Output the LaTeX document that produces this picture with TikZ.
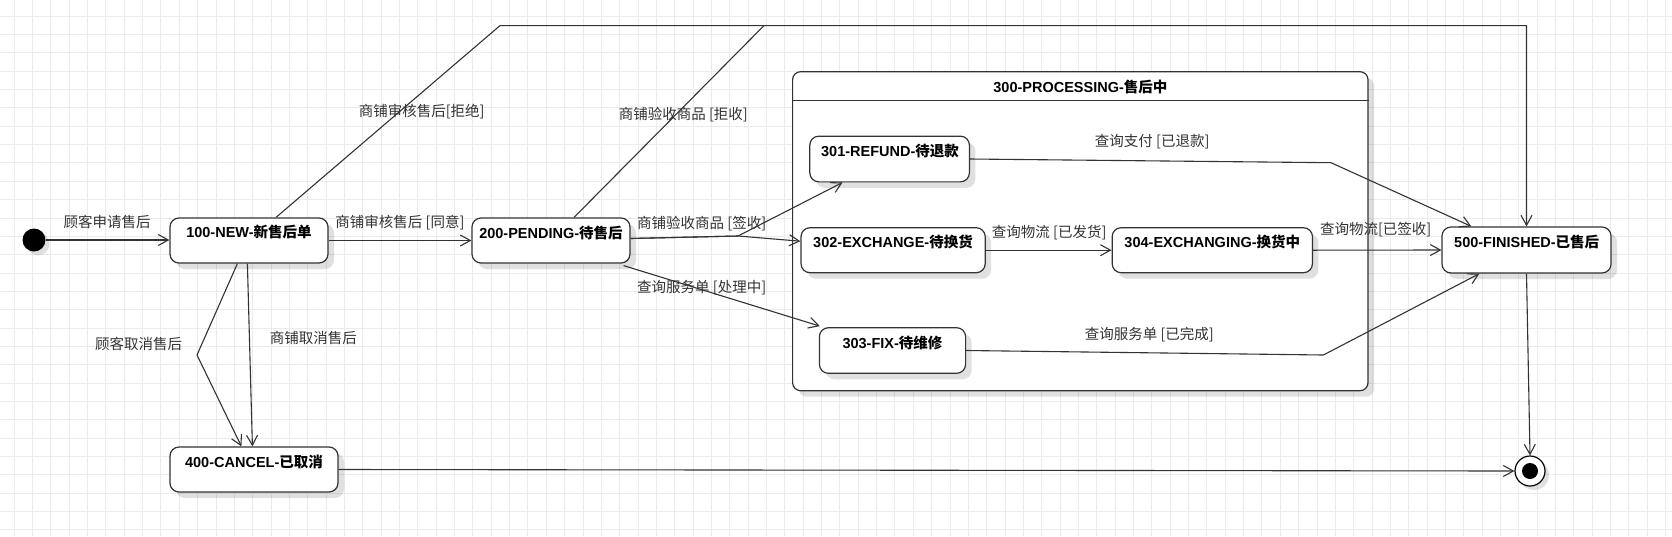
\documentclass[tikz,border=0pt]{standalone}
\usepackage{fontspec}
\setmainfont{Liberation Sans}
\newfontfamily\cjk{Noto Sans CJK SC}
\usetikzlibrary{arrows.meta,shadows,calc}
\definecolor{linecol}{HTML}{333333}
\definecolor{gridcol}{HTML}{EBEBEB}
\definecolor{labcol}{HTML}{333333}
\newcommand{\zh}[1]{{\cjk #1}}
\begin{document}
\begin{tikzpicture}[x=1pt,y=-1pt,
  state/.style={draw=linecol, line width=1.2pt, rounded corners=9pt, fill=white, inner sep=0pt,
    drop shadow={shadow xshift=6pt, shadow yshift=-6pt, opacity=0.12, fill=black}},
  stitle/.style={font=\fontsize{14.5}{17}\selectfont\bfseries, text=black, inner sep=0pt},
  elabel/.style={font=\fontsize{14.5}{17}\selectfont, text=labcol, inner sep=0pt},
  edge/.style={draw=linecol, line width=1.1pt},
  arr/.style={edge, -{Straight Barb[length=10pt,width=11pt]}},
]
\useasboundingbox (0,0) rectangle (1672,536);
\fill[white] (0,0) rectangle (1672,536);
% grid
\foreach \i in {0,...,90} \draw[gridcol, line width=0.7pt] (14+\i*18.35,0) -- (14+\i*18.35,536);
\foreach \j in {0,...,28} \draw[gridcol, line width=0.7pt] (0,16+\j*18.35) -- (1672,16+\j*18.35);

% container
\node[state, rounded corners=8pt, minimum width=575.4pt, minimum height=319pt] (cont) at (1080.3,231.2) {};
\draw[linecol, line width=1.2pt] (cont.west |- 0,100.7) -- (cont.east |- 0,100.7);
\node[stitle] (tcont) at (1080.4,86.7) {300-PROCESSING-\zh{售后中}};

% initial & final
\node[circle, fill=black, minimum size=23pt, inner sep=0pt,
  drop shadow={shadow xshift=4pt, shadow yshift=-4pt, opacity=0.12, fill=black}] (init) at (34,240) {};
\node[circle, draw=black, line width=1.2pt, fill=white, minimum size=30pt, inner sep=0pt,
  drop shadow={shadow xshift=4pt, shadow yshift=-4pt, opacity=0.12, fill=black}] (final) at (1530,471) {};
\node[circle, fill=black, minimum size=16pt, inner sep=0pt] (finalin) at (final.center) {};

% states
\node[state, minimum width=158pt, minimum height=45pt] (n100) at (249,240.5) {};
\node[stitle] (t100) at (249,232) {100-NEW-\zh{新售后单}};
\node[state, minimum width=168pt, minimum height=45pt] (n400) at (254,469.5) {};
\node[stitle] (t400) at (254,462) {400-CANCEL-\zh{已取消}};
\node[state, minimum width=158pt, minimum height=45pt] (n200) at (551,240.5) {};
\node[stitle] (t200) at (551,233) {200-PENDING-\zh{待售后}};
\node[state, minimum width=159.6pt, minimum height=45.7pt] (n301) at (889.6,159) {};
\node[stitle] (t301) at (890,150.7) {301-REFUND-\zh{待退款}};
\node[state, minimum width=184.2pt, minimum height=45pt] (n302) at (893.1,250.2) {};
\node[stitle] (t302) at (893,242.3) {302-EXCHANGE-\zh{待换货}};
\node[state, minimum width=200.3pt, minimum height=45pt] (n304) at (1212.3,250.2) {};
\node[stitle] (t304) at (1212.3,242.3) {304-EXCHANGING-\zh{换货中}};
\node[state, minimum width=146.2pt, minimum height=45.6pt] (n303) at (892.5,350.5) {};
\node[stitle] (t303) at (892.5,343.3) {303-FIX-\zh{待维修}};
\node[state, minimum width=169pt, minimum height=46pt] (n500) at (1526.5,250) {};
\node[stitle] (t500) at (1526.7,242.3) {500-FINISHED-\zh{已售后}};

% bend coordinates
\coordinate (b1) at (500,25.6);
\coordinate (b2) at (764,25.6);
\coordinate (b3) at (738,236);
\coordinate (b4) at (1331,162.7);
\coordinate (b5) at (1323.4,355);
\coordinate (b6) at (197,355);

% edges
\draw[arr] (init.east) -- (init.east -| n100.west);
\draw[arr] (n100.east) -- (n200.west);
\draw[arr] ([xshift=27pt]n100.north) -- (b1) -- (b1 -| n500.north) -- (n500.north);
\draw[edge] ([xshift=23pt]n200.north) -- (b2);
\draw[arr] ([yshift=2pt]n200.east) -- (b3) -- ([xshift=-47pt]n301.south);
\draw[arr] ([yshift=2pt]n200.east) -- (b3) -- ([yshift=9pt]n302.west);
\draw[arr] ([xshift=-7pt,yshift=-2pt]n200.south east) -- ([xshift=1pt,yshift=1pt]n303.north west);
\draw[arr] (n302.east) -- (n304.west);
\draw[arr] (n304.east) -- (n500.west);
\draw[arr] (n301.east) -- (b4) -- ([xshift=30pt]n500.north west);
\draw[arr] (n303.east) -- (b5) -- ([xshift=38pt]n500.south west);
\draw[arr] (n500.south) -- (final.north);
\draw[arr] (n400.east) -- (final.west);
\draw[arr] ([xshift=68pt]n100.south west) -- (b6) -- ([xshift=72pt]n400.north west);
\draw[arr] ([xshift=78pt]n100.south west) -- ([xshift=83pt]n400.north west);

% edge labels
\node[elabel] (l1) at (107,222) {\zh{顾客申请售后}};
\node[elabel] (l2) at (400,223) {\zh{商铺审核售后 [同意]}};
\node[elabel] (l3) at (421.7,111.7) {\zh{商铺审核售后[拒绝]}};
\node[elabel] (l4) at (683.3,115) {\zh{商铺验收商品 [拒收]}};
\node[elabel] (l5) at (701.7,223.3) {\zh{商铺验收商品 [签收]}};
\node[elabel] (l6) at (701.7,287.3) {\zh{查询服务单 [处理中]}};
\node[elabel] (l7) at (1049.2,232.3) {\zh{查询物流 [已发货]}};
\node[elabel] (l8) at (1375.7,230) {\zh{查询物流[已签收]}};
\node[elabel] (l9) at (1152.2,141.7) {\zh{查询支付 [已退款]}};
\node[elabel] (l10) at (1149.3,334.3) {\zh{查询服务单 [已完成]}};
\node[elabel] (l11) at (138.6,344.4) {\zh{顾客取消售后}};
\node[elabel] (l12) at (313.3,338.3) {\zh{商铺取消售后}};
\end{tikzpicture}
\end{document}
